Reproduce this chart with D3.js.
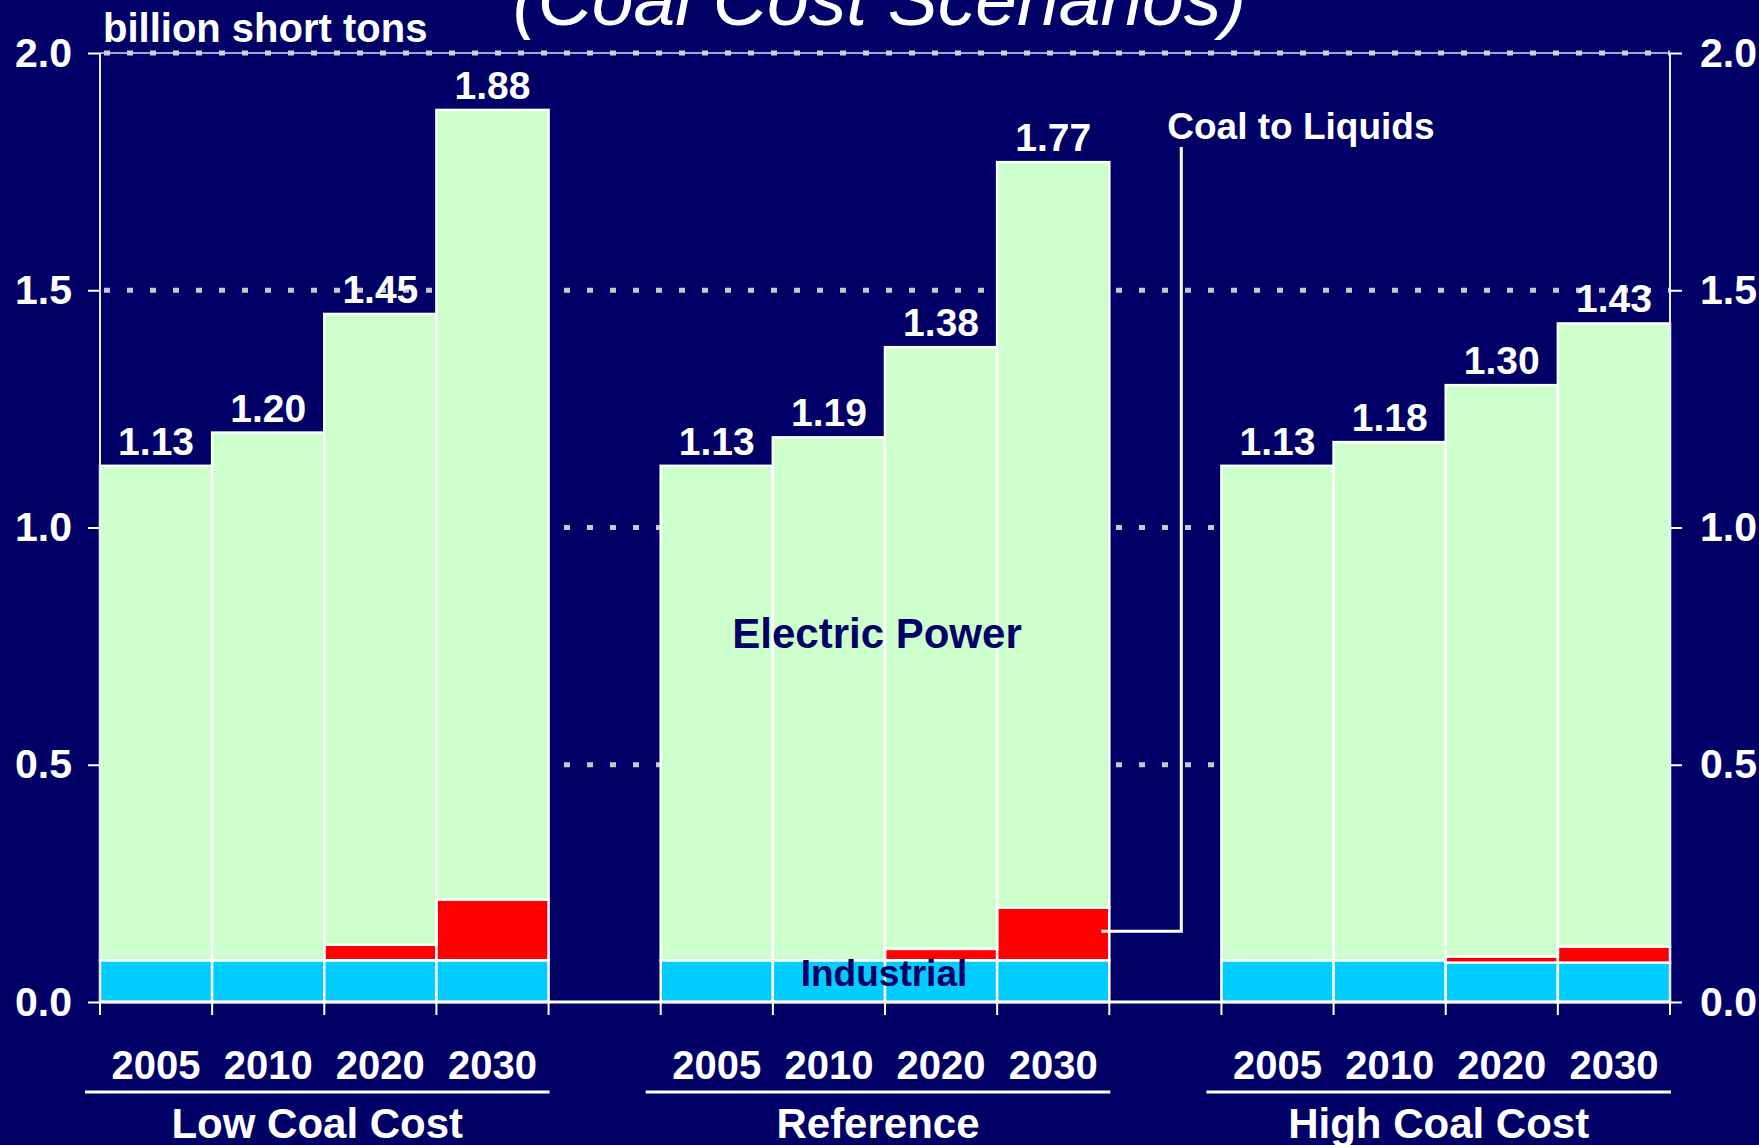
<!DOCTYPE html>
<html>
<head>
<meta charset="utf-8">
<script src="https://cdn.jsdelivr.net/npm/d3@7"></script>
<style>
  body { margin: 0; background: #000066; }
  svg { display: block; font-family: "Liberation Sans", Arial, sans-serif; }
</style>
</head>
<body>
<svg id="chart" width="1759" height="1145"></svg>
<script>

// data - billion short tons
var scenarios = ["Low Coal Cost", "Reference", "High Coal Cost"];
var years = ["2005", "2010", "2020", "2030"];
var industrial    = [[0.088, 0.088, 0.088, 0.088], [0.088, 0.088, 0.088, 0.088], [0.088, 0.088, 0.083, 0.083]];
var coalToLiquids = [[0, 0, 0.033, 0.128], [0, 0, 0.024, 0.111], [0, 0, 0.013, 0.034]];
var electricPower = [[1.042, 1.112, 1.329, 1.664], [1.042, 1.102, 1.268, 1.571], [1.042, 1.092, 1.204, 1.313]];
var totals        = [[1.13, 1.20, 1.45, 1.88], [1.13, 1.19, 1.38, 1.77], [1.13, 1.18, 1.30, 1.43]];
var yTicks = [0, 0.5, 1.0, 1.5, 2.0];
var gridValues = [0.5, 1.0, 1.5];

var colors = { industrial: "#00ccff", ctl: "#ff0000", electric: "#ccffcc" };

// svg variables
var width = 1759, height = 1145;
var plot = { left: 100, right: 1670, top: 53, bottom: 1002 };

var svg = d3.select("#chart");

svg.append("rect").attr("width", width).attr("height", height).attr("fill", "#000066");

// scales
var xOuter = d3.scaleBand()
    .domain(scenarios)
    .range([plot.left, plot.right])
    .paddingInner(0.2)
    .paddingOuter(0);

var xInner = d3.scaleBand()
    .domain(years)
    .range([0, xOuter.bandwidth()])
    .padding(0);

var y = d3.scaleLinear().domain([0, 2]).range([plot.bottom, plot.top]);

// rows for stacking
var rows = [];
scenarios.forEach(function (s, i) {
    years.forEach(function (yr, j) {
        rows.push({
            scenario: s, year: yr,
            industrial: industrial[i][j],
            ctl: coalToLiquids[i][j],
            electric: electricPower[i][j],
            total: totals[i][j]
        });
    });
});

var stack = d3.stack().keys(["industrial", "ctl", "electric"]);
var series = stack(rows);

function barX(d) { return xOuter(d.scenario) + xInner(d.year); }

// title (cut off at top)
svg.append("text")
    .attr("x", width / 2).attr("y", 25)
    .attr("text-anchor", "middle")
    .attr("fill", "#fff")
    .style("font-size", "75px")
    .style("font-style", "italic")
    .text("(Coal Cost Scenarios)");

// dotted grid lines behind the bars
svg.append("g").selectAll("line")
    .data(gridValues)
    .enter().append("line")
    .attr("x1", plot.left + 4).attr("x2", plot.right)
    .attr("y1", function (d) { return y(d); })
    .attr("y2", function (d) { return y(d); })
    .attr("stroke", "#c8c8c8")
    .attr("stroke-width", 5)
    .attr("stroke-dasharray", "6,17");

// top border + dots at 2.0
svg.append("line")
    .attr("x1", plot.left).attr("x2", plot.right)
    .attr("y1", y(2)).attr("y2", y(2))
    .attr("stroke", "#d8d8ff").attr("stroke-width", 1.5);
svg.append("line")
    .attr("x1", plot.left + 4).attr("x2", plot.right)
    .attr("y1", y(2)).attr("y2", y(2))
    .attr("stroke", "#d0d0d0").attr("stroke-width", 5)
    .attr("stroke-dasharray", "6,17");

// bars
var layers = svg.append("g").selectAll("g")
    .data(series)
    .enter().append("g")
    .attr("fill", function (d) { return colors[d.key]; });

layers.selectAll("rect")
    .data(function (d) { return d.filter(function (p) { return p[1] - p[0] > 0; }); })
    .enter().append("rect")
    .attr("x", function (d) { return barX(d.data); })
    .attr("width", xInner.bandwidth())
    .attr("y", function (d) { return y(d[1]); })
    .attr("height", function (d) { return y(d[0]) - y(d[1]); })
    .attr("stroke", "#fff")
    .attr("stroke-width", 2.5);

// left / right axis lines
[plot.left, plot.right].forEach(function (xx) {
    svg.append("line")
        .attr("x1", xx).attr("x2", xx)
        .attr("y1", y(2)).attr("y2", y(0))
        .attr("stroke", "#e8e8ff").attr("stroke-width", 2);
});

// bottom axis line
svg.append("line")
    .attr("x1", plot.left).attr("x2", plot.right)
    .attr("y1", y(0)).attr("y2", y(0))
    .attr("stroke", "#fff").attr("stroke-width", 3);

// y axes
function styleAxis(g) {
    g.select(".domain").remove();
    g.selectAll(".tick line").attr("stroke", "#fff").attr("stroke-width", 2);
    g.selectAll(".tick text")
        .attr("fill", "#fff")
        .style("font-size", "41px")
        .style("font-weight", "bold")
        .style("font-family", "Liberation Sans, Arial, sans-serif");
}

svg.append("g")
    .attr("transform", "translate(" + plot.left + ",0)")
    .call(d3.axisLeft(y).tickValues(yTicks).tickFormat(d3.format(".1f")).tickSize(12).tickPadding(16))
    .call(styleAxis);

svg.append("g")
    .attr("transform", "translate(" + plot.right + ",0)")
    .call(d3.axisRight(y).tickValues(yTicks).tickFormat(d3.format(".1f")).tickSize(12).tickPadding(18))
    .call(styleAxis);

// bottom ticks at bar boundaries
var tickXs = [];
scenarios.forEach(function (s) {
    years.forEach(function (yr) { tickXs.push(xOuter(s) + xInner(yr)); });
    tickXs.push(xOuter(s) + xOuter.bandwidth());
});
svg.append("g").selectAll("line")
    .data(tickXs)
    .enter().append("line")
    .attr("x1", function (d) { return d; }).attr("x2", function (d) { return d; })
    .attr("y1", y(0)).attr("y2", y(0) + 13)
    .attr("stroke", "#fff").attr("stroke-width", 2);

// total labels
svg.append("g").selectAll("text")
    .data(rows)
    .enter().append("text")
    .attr("x", function (d) { return barX(d) + xInner.bandwidth() / 2; })
    .attr("y", function (d) { return y(d.total) - 11; })
    .attr("text-anchor", "middle")
    .attr("fill", "#fff")
    .style("font-size", "39px")
    .style("font-weight", "bold")
    .text(function (d) { return d3.format(".2f")(d.total); });

// year labels
svg.append("g").selectAll("text")
    .data(rows)
    .enter().append("text")
    .attr("x", function (d) { return barX(d) + xInner.bandwidth() / 2; })
    .attr("y", 1079)
    .attr("text-anchor", "middle")
    .attr("fill", "#fff")
    .style("font-size", "40px")
    .style("font-weight", "bold")
    .text(function (d) { return d.year; });

// scenario underline + name
scenarios.forEach(function (s) {
    var x1 = xOuter(s) - 15, x2 = xOuter(s) + xOuter.bandwidth() + 1;
    svg.append("line")
        .attr("x1", x1).attr("x2", x2)
        .attr("y1", 1092).attr("y2", 1092)
        .attr("stroke", "#fff").attr("stroke-width", 3);
    svg.append("text")
        .attr("x", (x1 + x2) / 2).attr("y", 1138)
        .attr("text-anchor", "middle")
        .attr("fill", "#fff")
        .style("font-size", "42px")
        .style("font-weight", "bold")
        .text(s);
});

// units label
svg.append("text")
    .attr("x", 103).attr("y", 42)
    .attr("fill", "#fff")
    .style("font-size", "40px")
    .style("font-weight", "bold")
    .text("billion short tons");

// series annotations
var refX = xOuter("Reference");
svg.append("text")
    .attr("x", refX + xOuter.bandwidth() / 2 - 8).attr("y", y(0.745))
    .attr("text-anchor", "middle")
    .attr("fill", "#000066")
    .style("font-size", "42px")
    .style("font-weight", "bold")
    .text("Electric Power");

svg.append("text")
    .attr("x", refX + xOuter.bandwidth() / 2 - 1).attr("y", y(0.033))
    .attr("text-anchor", "middle")
    .attr("fill", "#000066")
    .style("font-size", "37px")
    .style("font-weight", "bold")
    .text("Industrial");

// coal to liquids leader
var refEnd = refX + xOuter.bandwidth();
svg.append("path")
    .attr("d", "M" + (refEnd - 8) + "," + y(0.149) + "H" + (refEnd + 72) + "V147")
    .attr("fill", "none")
    .attr("stroke", "#fff")
    .attr("stroke-width", 3);

svg.append("text")
    .attr("x", refEnd + 58).attr("y", 139)
    .attr("fill", "#fff")
    .style("font-size", "37px")
    .style("font-weight", "bold")
    .text("Coal to Liquids");

</script>
</body>
</html>
